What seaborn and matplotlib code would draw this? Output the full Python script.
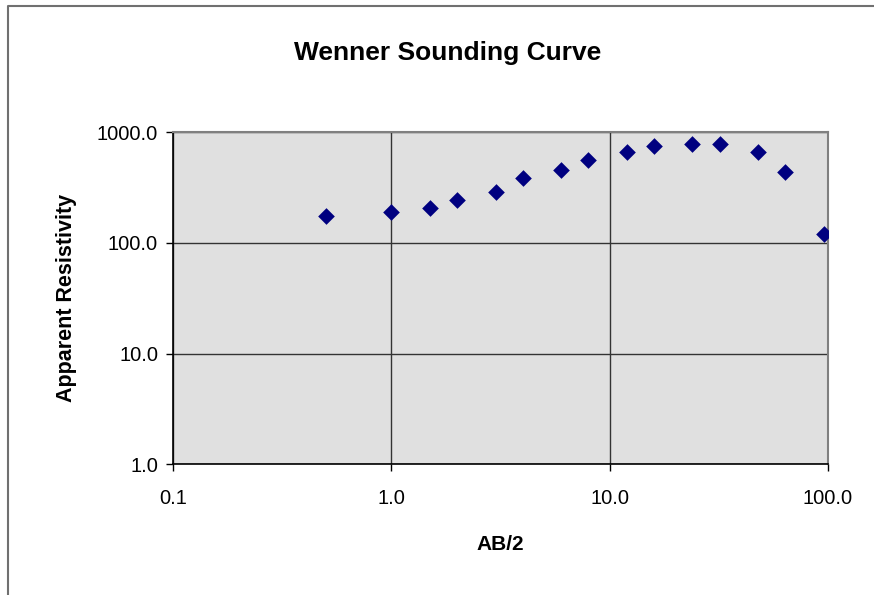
import numpy as np
import pandas as pd
import matplotlib
matplotlib.use("Agg")
import matplotlib.pyplot as plt
from matplotlib.lines import Line2D
from matplotlib.ticker import FixedLocator, FixedFormatter, NullLocator
import seaborn as sns

# values
ab2 = [0.5, 1.0, 1.5, 2.0, 3.0, 4.0, 6.0, 8.0, 12.0, 16.0, 24.0, 32.0, 48.0, 64.0, 96.0]
rho_a = [175, 190, 207, 244, 290, 388, 459, 561, 662, 755, 787, 787, 662, 440, 121]
x_ticks = [0.1, 1.0, 10.0, 100.0]
y_ticks = [1.0, 10.0, 100.0, 1000.0]

df = pd.DataFrame({"AB/2": ab2, "Apparent Resistivity": rho_a})

sns.set_style("white", {"xtick.bottom": True, "ytick.left": True,
                        "text.color": "black", "axes.labelcolor": "black",
                        "xtick.color": "black", "ytick.color": "black"})
plt.rcParams["font.family"] = ["Liberation Sans", "DejaVu Sans"]

fig = plt.figure(figsize=(8.74, 5.95), dpi=100)
ax = fig.add_axes([0.1983, 0.2197, 0.9470 - 0.1983, 0.7776 - 0.2197])
ax.set_facecolor("#E0E0E0")

sns.scatterplot(data=df, x="AB/2", y="Apparent Resistivity", ax=ax,
                marker="D", s=72, color="#000080", linewidth=0, zorder=3)

ax.set_xscale("log")
ax.set_yscale("log")
ax.set_xlim(0.1, 100)
ax.set_ylim(1, 1000)

ax.xaxis.set_major_locator(FixedLocator(x_ticks))
ax.xaxis.set_major_formatter(FixedFormatter([f"{v:.1f}" for v in x_ticks]))
ax.xaxis.set_minor_locator(NullLocator())
ax.yaxis.set_major_locator(FixedLocator(y_ticks))
ax.yaxis.set_major_formatter(FixedFormatter([f"{v:.1f}" for v in y_ticks]))
ax.yaxis.set_minor_locator(NullLocator())

ax.grid(True, color="#333333", linewidth=1.0)
ax.set_axisbelow(True)
ax.tick_params(axis="both", which="major", bottom=True, left=True, direction="out",
               length=5, width=1, color="black", labelsize=14.5, labelcolor="black")
ax.tick_params(axis="y", pad=6)
ax.tick_params(axis="x", pad=13)

for side in ["left", "bottom"]:
    ax.spines[side].set_color("black")
    ax.spines[side].set_linewidth(1.2)
for side in ["top", "right"]:
    ax.spines[side].set_color("#808080")
    ax.spines[side].set_linewidth(1.5)

ax.set_xlabel("AB/2", fontsize=15, fontweight="bold", labelpad=19, color="black")
ax.set_ylabel("Apparent Resistivity", fontsize=15.5, fontweight="bold", labelpad=14,
              color="black")
fig.text(448 / 874, 1 - 53 / 595, "Wenner Sounding Curve", ha="center", va="center",
         fontsize=19, fontweight="bold", color="black")

# chart area border (cut off at right and bottom)
fig.add_artist(Line2D([7.5 / 874, 7.5 / 874, 1.0], [0.0, 1 - 6 / 595, 1 - 6 / 595],
                      transform=fig.transFigure, color="#707070", linewidth=1.5))

fig.savefig("out.png", dpi=100)
plt.close(fig)
